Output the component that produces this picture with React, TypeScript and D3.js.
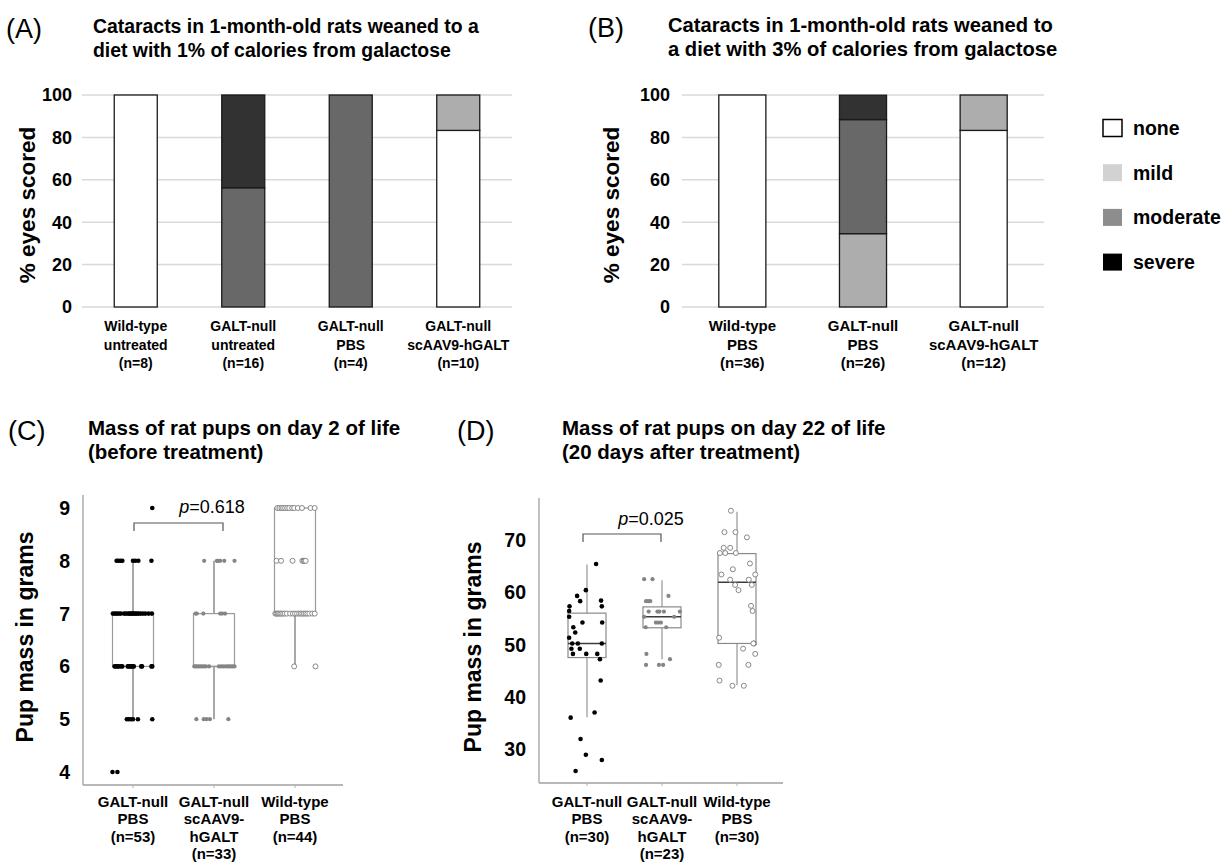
import React from "react";
import * as d3 from "d3";

const FONT = "'Liberation Sans', Arial, Helvetica, sans-serif";

// ---- cataract score panels (A, B) ----
const levels = ["none", "mild", "moderate", "severe"];
const barFill: Record<string, string> = {
  none: "#ffffff",
  mild: "#adadad",
  moderate: "#686868",
  severe: "#323232",
};
const legendFill = ["#ffffff", "#d2d2d2", "#8d8d8d", "#000000"];
const pctTicks = [0, 20, 40, 60, 80, 100];

const aLabels = [
  ["Wild-type", "untreated", "(n=8)"],
  ["GALT-null", "untreated", "(n=16)"],
  ["GALT-null", "PBS", "(n=4)"],
  ["GALT-null", "scAAV9-hGALT", "(n=10)"],
];
const aNone = [100, 0, 0, 83.3];
const aMild = [0, 0, 0, 16.7];
const aModerate = [0, 56.25, 100, 0];
const aSevere = [0, 43.75, 0, 0];

const bLabels = [
  ["Wild-type", "PBS", "(n=36)"],
  ["GALT-null", "PBS", "(n=26)"],
  ["GALT-null", "scAAV9-hGALT", "(n=12)"],
];
const bNone = [100, 0, 83.3];
const bMild = [0, 34.6, 16.7];
const bModerate = [0, 53.8, 0];
const bSevere = [0, 11.5, 0];

// ---- pup mass panels (C, D) ----
// points are [mass, horizontal jitter as a fraction of box width]
const cLabels = [
  ["GALT-null", "PBS", "(n=53)"],
  ["GALT-null", "scAAV9-", "hGALT", "(n=33)"],
  ["Wild-type", "PBS", "(n=44)"],
];
const cTicks = [4, 5, 6, 7, 8, 9];
const cNullPbs: [number, number][] = [
  [9, 0.47],
  [8, -0.4], [8, -0.36], [8, -0.31], [8, -0.26], [8, 0.0], [8, 0.06], [8, 0.13], [8, 0.45],
  [7, -0.49], [7, -0.44], [7, -0.4], [7, -0.35], [7, -0.3], [7, -0.22], [7, -0.17], [7, -0.12],
  [7, -0.08], [7, -0.05], [7, -0.02], [7, 0.02], [7, 0.05], [7, 0.09], [7, 0.13], [7, 0.18],
  [7, 0.24], [7, 0.3], [7, 0.38], [7, 0.46],
  [6, -0.45], [6, -0.42], [6, -0.38], [6, -0.35], [6, -0.3], [6, -0.26], [6, -0.13], [6, -0.1],
  [6, -0.07], [6, -0.04], [6, -0.01], [6, 0.02], [6, 0.2], [6, 0.22], [6, 0.45], [6, 0.47],
  [5, -0.15], [5, -0.1], [5, -0.05], [5, 0.0], [5, 0.12], [5, 0.47],
  [4, -0.5], [4, -0.38],
];
const cNullAav: [number, number][] = [
  [8, -0.24], [8, 0.07], [8, 0.1], [8, 0.15], [8, 0.25], [8, 0.5],
  [7, -0.45], [7, -0.42], [7, -0.26], [7, 0.15], [7, 0.2], [7, 0.27],
  [6, -0.48], [6, -0.44], [6, -0.4], [6, -0.35], [6, -0.3], [6, -0.25], [6, -0.2], [6, -0.12],
  [6, 0.12], [6, 0.18], [6, 0.24], [6, 0.3], [6, 0.35], [6, 0.4], [6, 0.45], [6, 0.5],
  [5, -0.43], [5, -0.25], [5, -0.18], [5, -0.1], [5, 0.35],
];
const cWildPbs: [number, number][] = [
  [9, -0.43], [9, -0.38], [9, -0.33], [9, -0.29], [9, -0.24], [9, -0.19], [9, -0.14],
  [9, -0.07], [9, -0.02], [9, 0.07], [9, 0.17], [9, 0.38], [9, 0.48],
  [8, -0.45], [8, -0.34], [8, -0.06], [8, 0.18], [8, 0.21], [8, 0.23], [8, 0.26],
  [7, -0.48], [7, -0.45], [7, -0.42], [7, -0.39], [7, -0.36], [7, -0.33], [7, -0.29], [7, -0.25],
  [7, -0.2], [7, -0.12], [7, -0.05], [7, 0.0], [7, 0.05], [7, 0.1], [7, 0.14], [7, 0.18],
  [7, 0.22], [7, 0.26], [7, 0.3], [7, 0.35], [7, 0.42], [7, 0.48],
  [6, -0.02], [6, 0.5],
];
const cQ1 = [6, 6, 7];
const cMedian = [7, 6, 7];
const cQ3 = [7, 7, 9];
const cLow = [5, 5, 6];
const cHigh = [8, 8, 9];

const dLabels = [
  ["GALT-null", "PBS", "(n=30)"],
  ["GALT-null", "scAAV9-", "hGALT", "(n=23)"],
  ["Wild-type", "PBS", "(n=30)"],
];
const dTicks = [30, 40, 50, 60, 70];
const dNullPbs: [number, number][] = [
  [65.4, 0.24], [60.4, -0.03], [59.3, -0.26], [58.3, -0.18], [58.4, 0.37], [57.3, 0.39],
  [57.3, -0.46], [56.4, -0.47], [55.3, -0.47], [54.2, -0.12], [54.2, 0.4], [53.3, -0.36],
  [52.3, -0.31], [51.3, -0.47], [50.2, -0.39], [50.2, -0.24], [50.2, 0.39], [49.2, -0.41],
  [49.2, -0.19], [48.2, -0.37], [48.2, -0.02], [48.2, 0.27], [47.2, 0.34], [43.1, 0.36],
  [37.0, 0.2], [36.0, -0.43], [31.9, -0.17], [28.9, -0.03], [27.9, 0.39], [25.8, -0.3],
];
const dNullAav: [number, number][] = [
  [62.5, -0.47], [62.5, -0.25], [59.3, 0.17], [58.3, -0.42], [58.3, -0.36], [58.3, -0.31],
  [56.3, -0.35], [56.3, -0.12], [56.3, -0.07], [56.3, 0.05], [56.3, 0.47], [55.3, -0.47],
  [55.3, 0.32], [54.2, -0.16], [54.2, -0.1], [54.2, -0.03], [53.3, -0.43], [53.3, 0.11],
  [48.2, -0.41], [47.2, 0.21], [46.1, -0.42], [46.1, -0.08], [46.1, 0.03],
];
const dWildPbs: [number, number][] = [
  [75.6, -0.16], [71.5, -0.33], [71.5, -0.04], [70.5, 0.26], [68.5, -0.35], [68.5, -0.18],
  [67.5, -0.45], [67.5, -0.31], [67.5, -0.03], [65.5, 0.34], [64.4, -0.11], [63.4, -0.41],
  [63.4, 0.48], [62.4, -0.18], [62.4, 0.31], [61.4, -0.05], [61.4, 0.39], [60.4, 0.04],
  [57.4, 0.37], [56.4, 0.41], [51.3, -0.47], [50.2, 0.45], [50.2, 0.43], [49.2, 0.16],
  [48.2, 0.48], [46.1, -0.48], [46.1, 0.3], [43.1, -0.46], [42.1, -0.12], [42.1, 0.18],
];
const dQ1 = [47.5, 53.2, 50.2];
const dMedian = [50.2, 55.3, 61.9];
const dQ3 = [56.0, 57.2, 67.4];
const dLow = [36.1, 47.2, 42.2];
const dHigh = [65.3, 62.3, 75.4];

const dotStyles = [
  { fill: "#000000", stroke: "none", r: 2.3 },
  { fill: "#858585", stroke: "none", r: 2.1 },
  { fill: "#ffffff", stroke: "#7a7a7a", r: 2.5 },
];

const PanelTitle = ({ letter, letterX, lines, x, y, size }) => (
  <g fontFamily={FONT}>
    <text x={letterX} y={y + 5} fontSize={27}>
      {letter}
    </text>
    {lines.map((t, i) => (
      <text key={i} x={x} y={y + i * 24} fontSize={size} fontWeight="bold">
        {t}
      </text>
    ))}
  </g>
);

const BarPanel = ({ labels, series, x0, x1, tickRight, axisTitleX, labelSize, pad }) => {
  const y = d3.scaleLinear().domain([0, 100]).range([307, 95]);
  const x = d3
    .scaleBand()
    .domain(labels.map((_, i) => String(i)))
    .range([x0, x1])
    .paddingInner(pad)
    .paddingOuter(pad / 2);
  const rows = labels.map((_, i) => {
    const r: Record<string, number> = {};
    levels.forEach((k, j) => (r[k] = series[j][i]));
    return r;
  });
  const stacked = d3.stack().keys(levels)(rows as any);

  return (
    <g fontFamily={FONT}>
      {pctTicks.map((t) => (
        <g key={t}>
          <line x1={x0} x2={x1} y1={y(t)} y2={y(t)} stroke="#d9d9d9" strokeWidth={1.5} />
          <text
            x={tickRight}
            y={y(t)}
            dy="0.35em"
            textAnchor="end"
            fontSize={18}
            fontWeight="bold"
          >
            {t}
          </text>
        </g>
      ))}
      {stacked.map((layer) =>
        layer.map((d, i) =>
          d[1] - d[0] > 0 ? (
            <rect
              key={layer.key + i}
              x={x(String(i))}
              width={x.bandwidth()}
              y={y(d[1])}
              height={y(d[0]) - y(d[1])}
              fill={barFill[layer.key]}
              stroke="#1a1a1a"
              strokeWidth={1.3}
            />
          ) : null
        )
      )}
      <text
        transform={`translate(${axisTitleX},205) rotate(-90)`}
        textAnchor="middle"
        dy="0.35em"
        fontSize={22.5}
        fontWeight="bold"
      >
        % eyes scored
      </text>
      {labels.map((lines, i) =>
        lines.map((t, k) => (
          <text
            key={i + "-" + k}
            x={(x(String(i)) as number) + x.bandwidth() / 2}
            y={331 + k * 18.5}
            textAnchor="middle"
            fontSize={labelSize}
            fontWeight="bold"
          >
            {t}
          </text>
        ))
      )}
    </g>
  );
};

const BoxPanel = ({
  labels, groups, q1, med, q3, lo, hi, ticks, tickPix, axisX, axisTop, axisBottom, axisRight,
  centers, boxW, style, pText, pX, pY, bracketX, bracketY, titlePos,
}) => {
  const y = d3.scaleLinear().domain([ticks[0], ticks[ticks.length - 1]]).range(tickPix);
  const x = d3.scalePoint().domain(labels.map((_, i) => String(i))).range(centers);
  const jit = d3.scaleLinear().domain([-0.5, 0.5]).range([-boxW / 2, boxW / 2]);
  const cx = (i: number) => x(String(i)) as number;

  return (
    <g fontFamily={FONT}>
      <line x1={axisX} x2={axisX} y1={axisTop} y2={axisBottom} stroke="#a0a0a0" strokeWidth={1.3} />
      <line x1={axisX} x2={axisRight} y1={axisBottom} y2={axisBottom} stroke="#a0a0a0" strokeWidth={1.3} />
      {labels.map((_, i) => (
        <line key={i} x1={cx(i)} x2={cx(i)} y1={axisBottom} y2={axisBottom + 3} stroke="#b0b0b0" />
      ))}
      {ticks.map((t) => (
        <text key={t} x={axisX - 13} y={y(t)} dy="0.36em" textAnchor="end" fontSize={19.5} fontWeight="bold">
          {t}
        </text>
      ))}
      <text
        transform={`translate(${titlePos[0]},${titlePos[1]}) rotate(-90)`}
        textAnchor="middle"
        dy="0.35em"
        fontSize={23}
        fontWeight="bold"
      >
        Pup mass in grams
      </text>
      {labels.map((_, i) => (
        <g key={i}>
          <line x1={cx(i)} x2={cx(i)} y1={y(q3[i])} y2={y(hi[i])} stroke={style.whisker} strokeWidth={style.whiskerW} />
          <line x1={cx(i)} x2={cx(i)} y1={y(q1[i])} y2={y(lo[i])} stroke={style.whisker} strokeWidth={style.whiskerW} />
          <rect
            x={cx(i) - boxW / 2}
            width={boxW}
            y={y(q3[i])}
            height={y(q1[i]) - y(q3[i])}
            fill="none"
            stroke={style.box}
            strokeWidth={1.2}
          />
          <line
            x1={cx(i) - boxW / 2}
            x2={cx(i) + boxW / 2}
            y1={y(med[i])}
            y2={y(med[i])}
            stroke={style.median}
            strokeWidth={1.5}
          />
        </g>
      ))}
      {groups.map((pts, i) =>
        pts.map(([v, j], k) => (
          <circle
            key={i + "-" + k}
            cx={cx(i) + jit(j)}
            cy={y(v)}
            r={dotStyles[i].r}
            fill={dotStyles[i].fill}
            stroke={dotStyles[i].stroke}
            strokeWidth={0.9}
          />
        ))
      )}
      <path
        d={`M${bracketX[0]},${bracketY + 8}V${bracketY}H${bracketX[1]}V${bracketY + 8}`}
        fill="none"
        stroke="#555"
        strokeWidth={1.2}
      />
      <text x={pX} y={pY} textAnchor="middle" fontSize={18}>
        <tspan fontStyle="italic">p</tspan>
        {pText}
      </text>
      {labels.map((lines, i) =>
        lines.map((t, k) => (
          <text
            key={i + "-" + k}
            x={cx(i)}
            y={807 + k * 17.3}
            textAnchor="middle"
            fontSize={15}
            fontWeight="bold"
          >
            {t}
          </text>
        ))
      )}
    </g>
  );
};

export default function App() {
  return (
    <svg
      width={1222}
      height={863}
      style={{ position: "absolute", left: 0, top: 0, background: "#fff" }}
    >
      <rect width={1222} height={863} fill="#fff" />
      <PanelTitle
        letter="(A)"
        letterX={6}
        lines={["Cataracts in 1-month-old rats weaned to a", "diet with 1% of calories from galactose"]}
        x={93}
        y={33}
        size={19.4}
      />
      <BarPanel
        labels={aLabels}
        series={[aNone, aMild, aModerate, aSevere]}
        x0={82}
        x1={512}
        tickRight={72}
        axisTitleX={27}
        labelSize={14}
        pad={0.6}
      />
      <PanelTitle
        letter="(B)"
        letterX={588}
        lines={["Cataracts in 1-month-old rats weaned to", "a diet with 3% of calories from galactose"]}
        x={668}
        y={32}
        size={20.2}
      />
      <BarPanel
        labels={bLabels}
        series={[bNone, bMild, bModerate, bSevere]}
        x0={682}
        x1={1044}
        tickRight={670}
        axisTitleX={611}
        labelSize={15}
        pad={0.61}
      />
      <g fontFamily={FONT}>
        {levels.map((k, i) => (
          <g key={k} transform={`translate(1103,${128 + i * 44.7})`}>
            <rect
              x={0}
              y={-8.5}
              width={19}
              height={17}
              fill={legendFill[i]}
              stroke={i === 0 ? "#000" : "none"}
              strokeWidth={1.5}
            />
            <text x={30} y={0} dy="0.35em" fontSize={19.5} fontWeight="bold">
              {k}
            </text>
          </g>
        ))}
      </g>

      <PanelTitle
        letter="(C)"
        letterX={8}
        lines={["Mass of rat pups on day 2 of life", "(before treatment)"]}
        x={88}
        y={435}
        size={20.5}
      />
      <BoxPanel
        labels={cLabels}
        groups={[cNullPbs, cNullAav, cWildPbs]}
        q1={cQ1}
        med={cMedian}
        q3={cQ3}
        lo={cLow}
        hi={cHigh}
        ticks={cTicks}
        tickPix={[772, 508]}
        axisX={83}
        axisTop={495}
        axisBottom={785}
        axisRight={343}
        centers={[133, 295]}
        boxW={41}
        style={{ box: "#9a9a9a", whisker: "#a8a8a8", whiskerW: 2, median: "#9a9a9a" }}
        pText="=0.618"
        pX={212}
        pY={513}
        bracketX={[134, 223]}
        bracketY={523}
        titlePos={[25, 637]}
      />
      <PanelTitle
        letter="(D)"
        letterX={457}
        lines={["Mass of rat pups on day 22 of life", "(20 days after treatment)"]}
        x={562}
        y={435}
        size={20.5}
      />
      <BoxPanel
        labels={dLabels}
        groups={[dNullPbs, dNullAav, dWildPbs]}
        q1={dQ1}
        med={dMedian}
        q3={dQ3}
        lo={dLow}
        hi={dHigh}
        ticks={dTicks}
        tickPix={[749, 540]}
        axisX={539}
        axisTop={498}
        axisBottom={783}
        axisRight={783}
        centers={[587, 737]}
        boxW={38}
        style={{ box: "#8a8a8a", whisker: "#8a8a8a", whiskerW: 1.1, median: "#3c3c3c" }}
        pText="=0.025"
        pX={651}
        pY={525}
        bracketX={[583, 661]}
        bracketY={534}
        titlePos={[473, 647]}
      />
    </svg>
  );
}
